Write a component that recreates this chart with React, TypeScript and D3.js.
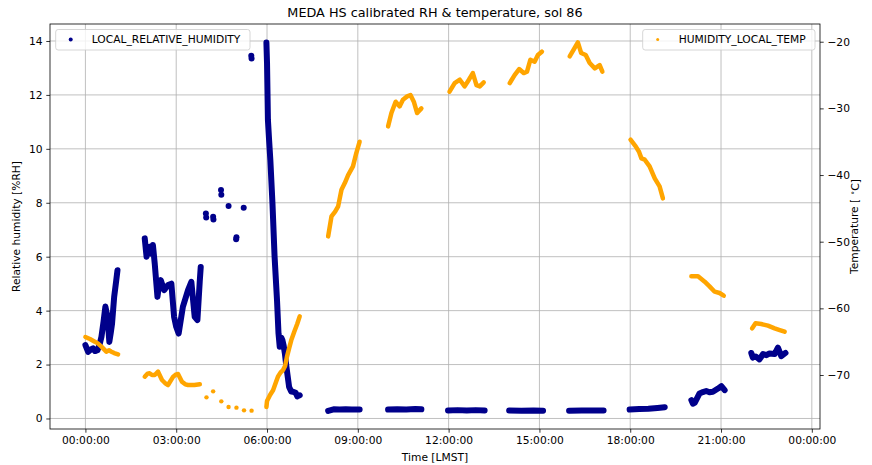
import { useEffect, useRef } from "react";
import * as d3 from "d3";

type Pt = [number, number];

// hours (LMST) vs relative humidity [%RH]
const rhSeg0000: Pt[] = [[0.0, 2.72], [0.09, 2.47], [0.17, 2.55], [0.25, 2.6], [0.32, 2.5], [0.4, 2.53], [0.47, 2.75], [0.53, 3.03], [0.6, 3.6], [0.66, 4.15], [0.73, 3.77], [0.79, 2.84], [0.84, 3.2], [0.88, 3.52], [0.95, 4.51], [1.02, 5.13], [1.06, 5.5]];
const rhSeg0200: Pt[] = [[1.96, 6.68], [2.02, 6.0], [2.12, 6.37], [2.2, 6.1], [2.23, 6.43], [2.29, 5.75], [2.38, 4.51], [2.44, 5.0], [2.49, 5.13], [2.6, 4.76], [2.73, 4.95], [2.84, 5.0], [2.93, 3.77], [3.0, 3.4], [3.08, 3.15], [3.22, 4.14], [3.39, 4.76], [3.5, 5.07], [3.61, 3.77], [3.7, 3.65], [3.78, 5.13], [3.81, 5.62]];
const rhSparse: Pt[] = [[3.98, 7.6], [3.99, 7.45], [4.22, 7.48], [4.23, 7.38], [4.48, 8.47], [4.49, 8.3], [4.73, 7.88], [4.98, 6.65], [4.99, 6.72], [5.23, 7.82], [5.48, 13.45], [5.49, 13.35]];
const rhSeg0600: Pt[] = [[5.98, 13.94], [6.0, 13.2], [6.03, 11.07], [6.07, 10.3], [6.11, 9.58], [6.18, 7.98], [6.25, 6.0], [6.33, 4.39], [6.38, 3.15], [6.42, 2.66], [6.47, 3.0], [6.51, 2.9], [6.55, 2.7], [6.59, 2.41], [6.64, 1.92], [6.73, 1.17], [6.8, 1.0], [6.86, 0.99], [6.95, 0.95], [7.0, 0.82], [7.08, 0.86]];
const rhSeg0800: Pt[] = [[8.02, 0.28], [8.2, 0.34], [8.4, 0.33], [8.6, 0.34], [8.8, 0.33], [9.06, 0.33]];
const rhSeg1000: Pt[] = [[10.0, 0.33], [10.3, 0.34], [10.6, 0.33], [10.9, 0.35], [11.1, 0.34]];
const rhSeg1200: Pt[] = [[11.98, 0.3], [12.3, 0.31], [12.6, 0.3], [12.9, 0.31], [13.19, 0.3]];
const rhSeg1400: Pt[] = [[14.0, 0.3], [14.4, 0.29], [14.8, 0.3], [15.12, 0.29]];
const rhSeg1600: Pt[] = [[15.98, 0.29], [16.4, 0.3], [16.8, 0.3], [17.12, 0.3]];
const rhSeg1800: Pt[] = [[17.98, 0.33], [18.3, 0.35], [18.6, 0.36], [18.9, 0.39], [19.14, 0.42]];
const rhSeg2000: Pt[] = [[20.02, 0.68], [20.07, 0.55], [20.13, 0.58], [20.29, 0.93], [20.4, 0.98], [20.51, 1.02], [20.62, 0.97], [20.73, 0.99], [20.9, 1.11], [21.01, 1.2], [21.12, 1.05]];
const rhSeg2200: Pt[] = [[22.0, 2.43], [22.05, 2.26], [22.15, 2.3], [22.27, 2.19], [22.39, 2.39], [22.5, 2.35], [22.6, 2.41], [22.77, 2.39], [22.88, 2.63], [22.99, 2.31], [23.13, 2.43]];

// hours (LMST) vs temperature [°C]
const tSeg0000: Pt[] = [[0.0, -64.3], [0.15, -64.6], [0.31, -65.0], [0.42, -65.3], [0.53, -65.75], [0.69, -66.5], [0.78, -66.3], [0.86, -66.5], [0.95, -66.7], [1.08, -66.9]];
const tSeg0200: Pt[] = [[1.96, -70.25], [2.05, -69.8], [2.12, -69.75], [2.2, -70.0], [2.29, -70.0], [2.4, -69.5], [2.53, -70.75], [2.63, -71.2], [2.73, -71.5], [2.9, -70.25], [3.0, -69.9], [3.06, -69.85], [3.19, -71.0], [3.3, -71.4], [3.39, -71.5], [3.6, -71.5], [3.78, -71.4]];
const tSparse: Pt[] = [[4.0, -73.35], [4.22, -72.45], [4.49, -73.95], [4.73, -74.8], [4.99, -74.9], [5.24, -75.3], [5.49, -75.35]];
const tSeg0600: Pt[] = [[5.98, -74.8], [6.0, -73.9], [6.1, -73.0], [6.2, -72.3], [6.3, -71.0], [6.36, -70.25], [6.45, -69.6], [6.53, -69.25], [6.6, -68.6], [6.66, -67.25], [6.73, -66.0], [6.8, -64.8], [6.9, -63.5], [7.0, -62.3], [7.08, -61.2]];
const tSeg0800: Pt[] = [[8.02, -49.2], [8.13, -46.2], [8.25, -45.5], [8.35, -44.7], [8.46, -42.2], [8.57, -41.2], [8.68, -40.0], [8.84, -38.7], [8.95, -36.7], [9.06, -35.0]];
const tSeg1000: Pt[] = [[10.0, -32.7], [10.11, -30.7], [10.25, -29.0], [10.38, -29.7], [10.49, -28.7], [10.63, -28.2], [10.74, -28.0], [10.85, -29.0], [10.96, -30.7], [11.1, -30.0]];
const tSeg1200: Pt[] = [[12.03, -27.5], [12.2, -26.2], [12.37, -25.7], [12.53, -26.7], [12.67, -25.7], [12.8, -24.7], [12.92, -26.5], [13.03, -26.7], [13.16, -26.1]];
const tSeg1400: Pt[] = [[14.02, -26.2], [14.18, -25.0], [14.33, -24.1], [14.48, -24.7], [14.59, -24.5], [14.7, -22.7], [14.84, -23.0], [14.95, -22.0], [15.08, -21.5]];
const tSeg1600: Pt[] = [[16.0, -22.2], [16.16, -20.95], [16.27, -20.1], [16.38, -21.7], [16.53, -22.0], [16.66, -23.2], [16.83, -24.0], [16.99, -23.5], [17.08, -24.5]];
const tSeg1800: Pt[] = [[18.01, -34.7], [18.18, -35.7], [18.29, -36.5], [18.37, -37.5], [18.48, -37.7], [18.64, -38.7], [18.81, -40.5], [18.97, -41.7], [19.08, -43.5]];
const tSeg2000: Pt[] = [[20.02, -55.2], [20.24, -55.2], [20.46, -56.0], [20.62, -56.7], [20.79, -57.5], [20.95, -57.7], [21.09, -58.1]];
const tSeg2200: Pt[] = [[22.03, -63.0], [22.14, -62.25], [22.33, -62.35], [22.55, -62.6], [22.77, -63.0], [22.94, -63.25], [23.1, -63.5]];

const rhSegments = [rhSeg0000, rhSeg0200, rhSeg0600, rhSeg0800, rhSeg1000, rhSeg1200, rhSeg1400, rhSeg1600, rhSeg1800, rhSeg2000, rhSeg2200];
const tempSegments = [tSeg0000, tSeg0200, tSeg0600, tSeg0800, tSeg1000, tSeg1200, tSeg1400, tSeg1600, tSeg1800, tSeg2000, tSeg2200];

const xTicks = [0, 3, 6, 9, 12, 15, 18, 21, 24];
const xTickLabels = ["00:00:00", "03:00:00", "06:00:00", "09:00:00", "12:00:00", "15:00:00", "18:00:00", "21:00:00", "00:00:00"];
const rhTicks = [0, 2, 4, 6, 8, 10, 12, 14];
const tempTicks = [-70, -60, -50, -40, -30, -20];

const BLUE = "#00008b";
const ORANGE = "#ffa500";
const FONT = "DejaVu Sans, sans-serif";

export default function App() {
	const svgRef = useRef<SVGSVGElement>(null);

	useEffect(() => {
		document.body.style.margin = "0";
		if (!svgRef.current) return;
		const svg = d3.select(svgRef.current);
		svg.selectAll("*").remove();

		const width = 872;
		const height = 465;
		const margin = { top: 24, right: 52, bottom: 36, left: 50 };
		const innerWidth = width - margin.left - margin.right;
		const innerHeight = height - margin.top - margin.bottom;

		svg.attr("width", width).attr("height", height).style("font-family", FONT);
		svg.append("rect").attr("width", width).attr("height", height).attr("fill", "#fff");

		const x = d3.scaleLinear().domain([-1.17, 24.27]).range([0, innerWidth]);
		const yRh = d3.scaleLinear().domain([-0.39, 14.63]).range([innerHeight, 0]);
		const yT = d3.scaleLinear().domain([-78.1, -17.34]).range([innerHeight, 0]);

		const g = svg.append("g").attr("transform", `translate(${margin.left},${margin.top})`);

		// grid
		g.append("g")
			.selectAll("line")
			.data(xTicks)
			.enter()
			.append("line")
			.attr("x1", d => x(d))
			.attr("x2", d => x(d))
			.attr("y1", 0)
			.attr("y2", innerHeight)
			.attr("stroke", "#b0b0b0")
			.attr("stroke-width", 0.8);
		g.append("g")
			.selectAll("line")
			.data(rhTicks)
			.enter()
			.append("line")
			.attr("x1", 0)
			.attr("x2", innerWidth)
			.attr("y1", d => yRh(d))
			.attr("y2", d => yRh(d))
			.attr("stroke", "#b0b0b0")
			.attr("stroke-width", 0.8);

		const clip = svg.append("clipPath").attr("id", "plot-clip");
		clip.append("rect").attr("width", innerWidth).attr("height", innerHeight);
		const plot = g.append("g").attr("clip-path", "url(#plot-clip)");

		const rhLine = d3.line<Pt>().x(d => x(d[0])).y(d => yRh(d[1]));
		const tLine = d3.line<Pt>().x(d => x(d[0])).y(d => yT(d[1]));

		plot.selectAll(".rh-seg")
			.data(rhSegments)
			.enter()
			.append("path")
			.attr("class", "rh-seg")
			.attr("d", d => rhLine(d))
			.attr("fill", "none")
			.attr("stroke", BLUE)
			.attr("stroke-width", 6)
			.attr("stroke-linecap", "round")
			.attr("stroke-linejoin", "round");
		plot.selectAll(".rh-dot")
			.data(rhSparse)
			.enter()
			.append("circle")
			.attr("class", "rh-dot")
			.attr("cx", d => x(d[0]))
			.attr("cy", d => yRh(d[1]))
			.attr("r", 3)
			.attr("fill", BLUE);

		plot.selectAll(".t-seg")
			.data(tempSegments)
			.enter()
			.append("path")
			.attr("class", "t-seg")
			.attr("d", d => tLine(d))
			.attr("fill", "none")
			.attr("stroke", ORANGE)
			.attr("stroke-width", 4.5)
			.attr("stroke-linecap", "round")
			.attr("stroke-linejoin", "round");
		plot.selectAll(".t-dot")
			.data(tSparse)
			.enter()
			.append("circle")
			.attr("class", "t-dot")
			.attr("cx", d => x(d[0]))
			.attr("cy", d => yT(d[1]))
			.attr("r", 2.2)
			.attr("fill", ORANGE);

		// axes
		const styleAxis = (sel: d3.Selection<SVGGElement, unknown, null, undefined>) => {
			sel.select(".domain").remove();
			sel.selectAll(".tick line").attr("stroke", "#000").attr("stroke-width", 0.8);
			sel.selectAll(".tick text").attr("fill", "#000").style("font-size", "10.7px").style("font-family", FONT);
		};

		g.append("g")
			.attr("transform", `translate(0,${innerHeight})`)
			.call(d3.axisBottom(x).tickValues(xTicks).tickSize(3.7).tickPadding(3.7).tickFormat((_, i) => xTickLabels[i]))
			.call(styleAxis);
		g.append("g")
			.call(d3.axisLeft(yRh).tickValues(rhTicks).tickSize(3.7).tickPadding(3.7).tickFormat(d3.format("d")))
			.call(styleAxis);
		g.append("g")
			.attr("transform", `translate(${innerWidth},0)`)
			.call(d3.axisRight(yT).tickValues(tempTicks).tickSize(3.7).tickPadding(3.7).tickFormat(d => String(d).replace("-", "\u2212")))
			.call(styleAxis);

		g.append("rect")
			.attr("width", innerWidth)
			.attr("height", innerHeight)
			.attr("fill", "none")
			.attr("stroke", "#000")
			.attr("stroke-width", 0.8);

		// legends
		const legend = (lx: number, w: number, color: string, r: number, label: string) => {
			const lg = g.append("g").attr("transform", `translate(${lx},5.5)`);
			lg.append("rect")
				.attr("width", w)
				.attr("height", 20.5)
				.attr("rx", 2.5)
				.attr("fill", "rgba(255,255,255,0.8)")
				.attr("stroke", "#cccccc")
				.attr("stroke-width", 0.8);
			lg.append("circle").attr("cx", 15).attr("cy", 10).attr("r", r).attr("fill", color);
			lg.append("text")
				.attr("x", 36)
				.attr("y", 10)
				.attr("dy", "0.36em")
				.style("font-size", "10.7px")
				.text(label);
		};
		legend(5.7, 194.3, BLUE, 2, "LOCAL_RELATIVE_HUMIDITY");
		legend(592.7, 172.3, ORANGE, 1.5, "HUMIDITY_LOCAL_TEMP");

		// labels
		svg.append("text")
			.attr("x", margin.left + innerWidth / 2)
			.attr("y", 17)
			.attr("text-anchor", "middle")
			.style("font-size", "12.8px")
			.text("MEDA HS calibrated RH & temperature, sol 86");
		svg.append("text")
			.attr("x", margin.left + innerWidth / 2)
			.attr("y", 461)
			.attr("text-anchor", "middle")
			.style("font-size", "10.7px")
			.text("Time [LMST]");
		svg.append("text")
			.attr("transform", `translate(20,${margin.top + innerHeight / 2}) rotate(-90)`)
			.attr("text-anchor", "middle")
			.style("font-size", "10.7px")
			.text("Relative humidity [%RH]");
		const tl = svg.append("text")
			.attr("transform", `translate(858,${margin.top + innerHeight / 2}) rotate(-90)`)
			.attr("text-anchor", "middle")
			.style("font-size", "10.7px");
		tl.append("tspan").text("Temperature [ ");
		tl.append("tspan").attr("dy", "-0.35em").style("font-size", "7.5px").text("\u2218");
		tl.append("tspan").attr("dy", "0.35em").text("C]");
	}, []);

	return <svg ref={svgRef} style={{ display: "block" }} />;
}
